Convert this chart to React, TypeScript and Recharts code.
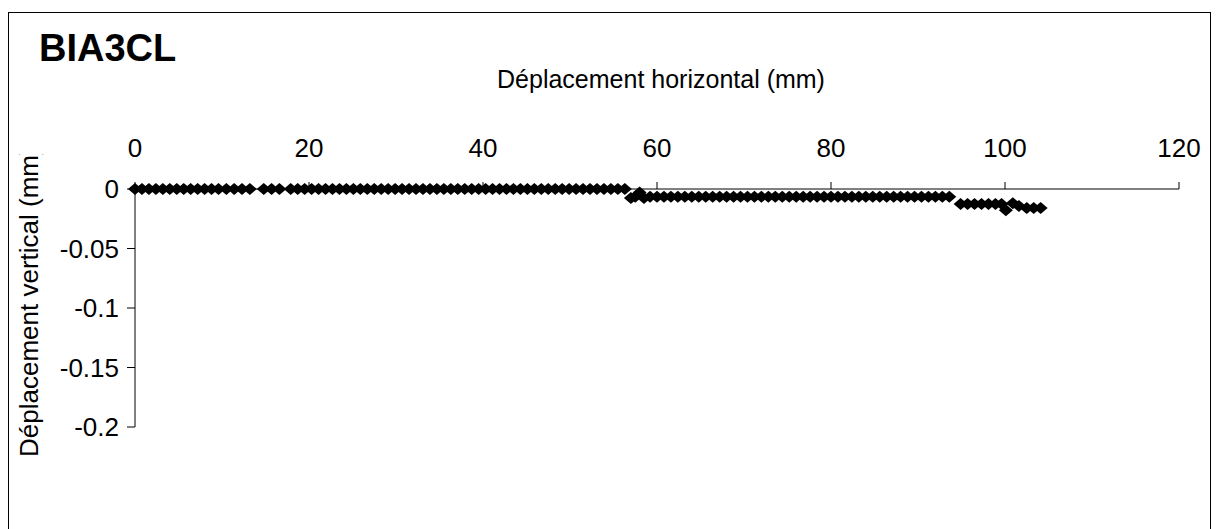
import React from 'react';
import { ScatterChart, Scatter, XAxis, YAxis, Label } from 'recharts';

const TITLE = 'BIA3CL';
const X_LABEL = 'Déplacement horizontal (mm)';
const Y_LABEL = 'Déplacement vertical (mm)';
const X_TICKS = [0, 20, 40, 60, 80, 100, 120];
const Y_TICKS = [0, -0.05, -0.1, -0.15, -0.2];

const X_VALUES = [
  0, 0.8, 1.6, 2.4, 3.2, 4.0, 4.8, 5.6, 6.4, 7.2, 8.0, 8.8, 9.6, 10.5, 11.4, 12.3, 13.2, 14.8, 15.7, 16.6,
  17.9, 18.7, 19.5, 20.3, 21.1, 21.9, 22.7, 23.5, 24.3, 25.1, 25.9, 26.7, 27.5, 28.3, 29.1, 29.9, 30.7, 31.5,
  32.3, 33.1, 33.9, 34.7, 35.5, 36.3, 37.1, 37.9, 38.7, 39.5, 40.3, 41.1, 41.9, 42.7, 43.5, 44.3, 45.1, 45.9,
  46.7, 47.5, 48.3, 49.1, 49.9, 50.7, 51.5, 52.3, 53.1, 53.9, 54.7, 55.5, 56.3,
  57.0, 57.5, 58.0, 58.5,
  59.2, 60.0, 60.8, 61.6, 62.4, 63.2, 64.0, 64.8, 65.6, 66.4, 67.2, 68.0, 68.8, 69.6, 70.4, 71.2, 72.0, 72.8,
  73.6, 74.4, 75.2, 76.0, 76.8, 77.6, 78.4, 79.2, 80.0, 80.8, 81.6, 82.4, 83.2, 84.0, 84.8, 85.6, 86.4, 87.2,
  88.0, 88.8, 89.6, 90.4, 91.2, 92.0, 92.8, 93.6,
  94.9, 95.7, 96.5, 97.3, 98.1, 98.9, 99.6, 100.1, 100.9, 101.6, 102.5, 103.3, 104.1,
];

const Y_VALUES = [
  0, 0, 0, 0, 0, 0, 0, 0, 0, 0, 0, 0, 0, 0, 0, 0, 0, 0, 0, 0,
  0, 0, 0, 0, 0, 0, 0, 0, 0, 0, 0, 0, 0, 0, 0, 0, 0, 0,
  0, 0, 0, 0, 0, 0, 0, 0, 0, 0, 0, 0, 0, 0, 0, 0, 0, 0,
  0, 0, 0, 0, 0, 0, 0, 0, 0, 0, 0, 0, 0,
  -0.0075, -0.0065, -0.003, -0.0075,
  -0.0065, -0.0065, -0.0065, -0.0065, -0.0065, -0.0065, -0.0065, -0.0065, -0.0065, -0.0065, -0.0065, -0.0065, -0.0065, -0.0065, -0.0065, -0.0065, -0.0065, -0.0065,
  -0.0065, -0.0065, -0.0065, -0.0065, -0.0065, -0.0065, -0.0065, -0.0065, -0.0065, -0.0065, -0.0065, -0.0065, -0.0065, -0.0065, -0.0065, -0.0065, -0.0065, -0.0065,
  -0.0065, -0.0065, -0.0065, -0.0065, -0.0065, -0.0065, -0.0065, -0.0065,
  -0.0125, -0.0125, -0.0125, -0.0125, -0.0125, -0.0125, -0.0125, -0.0178, -0.012, -0.0142, -0.016, -0.016, -0.016,
];

const data = X_VALUES.map((x, i) => ({ x, y: Y_VALUES[i] }));

const FONT = '"Liberation Sans", Arial, sans-serif';

const Diamond = (props: any) => {
  const { cx, cy } = props;
  if (cx == null || cy == null) return null;
  return (
    <path
      d={`M${cx - 7},${cy}L${cx},${cy - 6}L${cx + 7},${cy}L${cx},${cy + 6}Z`}
      fill="#000"
    />
  );
};

const TopLabels = () => (
  <g>
    <text x={30} y={48} fontFamily={FONT} fontSize={38} fontWeight="bold" fill="#000">
      {TITLE}
    </text>
    <text x={652} y={75} fontFamily={FONT} fontSize={25} fill="#000" textAnchor="middle">
      {X_LABEL}
    </text>
  </g>
);

const LeftLabel = () => (
  <g>
    <defs>
      <clipPath id="ylabel-clip">
        <rect x={0} y={141} width={110} height={400} />
      </clipPath>
    </defs>
    <g clipPath="url(#ylabel-clip)">
      <text
        x={29}
        y={444}
        transform="rotate(-90, 29, 444)"
        fontFamily={FONT}
        fontSize={26}
        fill="#000"
        textAnchor="start"
      >
        {Y_LABEL}
      </text>
    </g>
  </g>
);

export default function App() {
  return (
    <div
      style={{
        position: 'fixed',
        left: 8,
        top: 12,
        width: 1203,
        height: 530,
        border: '1px solid #000',
        boxSizing: 'border-box',
        background: '#fff',
      }}
    >
      <ScatterChart
        width={1201}
        height={528}
        margin={{ top: 136, right: 31, bottom: 114, left: 66 }}
      >
        <XAxis
          type="number"
          dataKey="x"
          domain={[0, 120]}
          ticks={X_TICKS}
          orientation="top"
          height={40}
          tickSize={7}
          tickMargin={25}
          axisLine={{ stroke: '#000' }}
          tickLine={{ stroke: '#000' }}
          tick={{ fill: '#000', fontSize: 26, fontFamily: FONT }}
        >
          <Label content={() => <TopLabels />} />
        </XAxis>
        <YAxis
          type="number"
          dataKey="y"
          domain={[-0.2, 0]}
          ticks={Y_TICKS}
          width={60}
          tickSize={8}
          tickMargin={8}
          axisLine={{ stroke: '#000' }}
          tickLine={{ stroke: '#000' }}
          tick={{ fill: '#000', fontSize: 26, fontFamily: FONT }}
        >
          <Label content={() => <LeftLabel />} />
        </YAxis>
        <Scatter data={data} shape={<Diamond />} isAnimationActive={false} />
      </ScatterChart>
    </div>
  );
}
